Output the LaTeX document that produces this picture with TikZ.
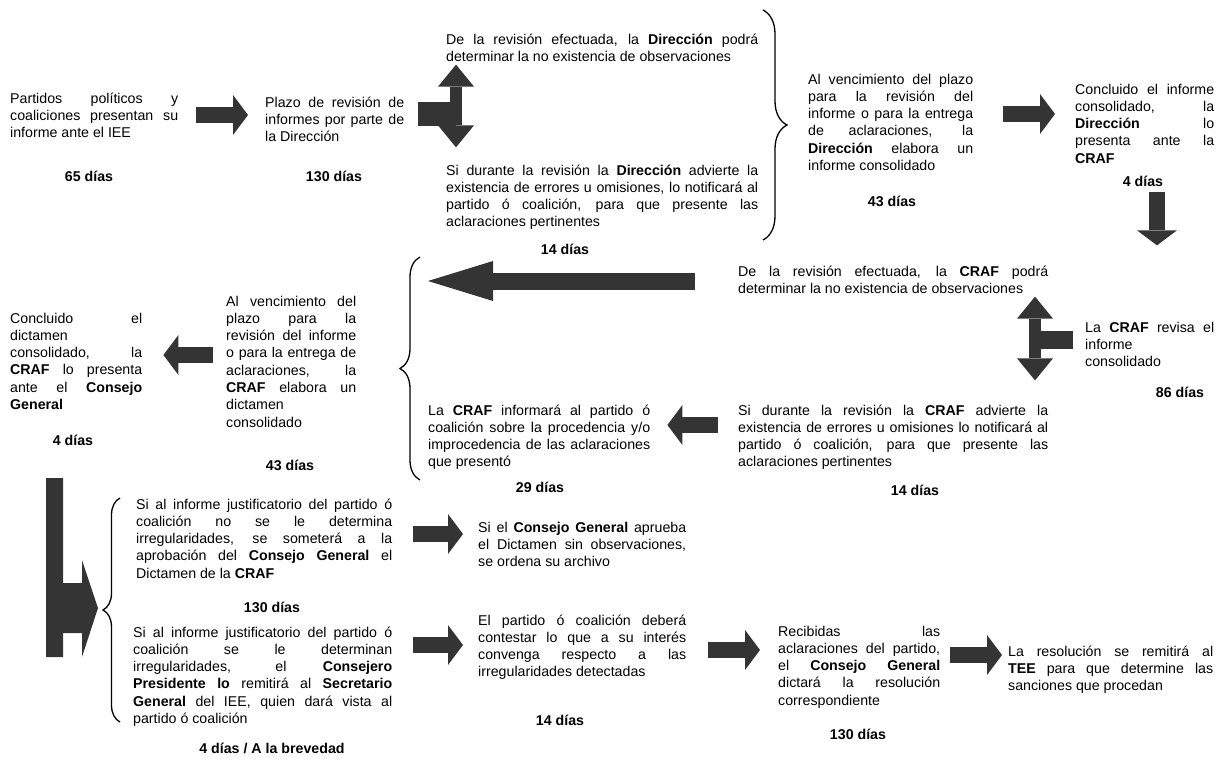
\documentclass[tikz,border=0pt]{standalone}
\usepackage{fontspec}
\setmainfont{Liberation Sans}
\usetikzlibrary{arrows.meta,decorations.pathreplacing}
\definecolor{arrgray}{RGB}{52,52,52}
\tolerance=10000
\hbadness=10000
\tikzset{
  txt/.style={anchor=base west, inner sep=0pt, align=justify, font=\fontsize{14.2pt}{17.3pt}\selectfont},
  dias/.style={inner sep=0pt, font=\fontsize{14.2pt}{17.3pt}\selectfont\bfseries},
  blk/.style={draw=arrgray, line width=16pt, -{Triangle[width=40pt,length=15pt,line width=0pt]}},
  blklong/.style={draw=arrgray, line width=17pt, -{Triangle[width=40pt,length=65pt,line width=0pt]}},
  dbl/.style={draw=arrgray, line width=12pt, {Triangle[width=36pt,length=22pt,line width=0pt]}-{Triangle[width=36pt,length=22pt,line width=0pt]}},
  stub/.style={draw=arrgray, line width=24pt},
  brc/.style={draw, line width=1.3pt, decorate, decoration={brace, #1}}
}
\begin{document}
\begin{tikzpicture}[x=1pt,y=-1pt]
  \useasboundingbox (0,0) rectangle (1224,758);
  % first row: Direccion
  \node[txt, text width=168pt] (partidos) at (10,103) {Partidos políticos y\linebreak coaliciones presentan su\linebreak informe ante el IEE};
  \node[dias] (d65) at (89,176) {65 días};
  \node[txt, text width=139pt] (plazo) at (265,107) {Plazo de revisión de\linebreak informes por parte de\linebreak la Dirección};
  \node[dias] (d130a) at (334,176) {130 días};
  \node[txt, text width=312pt] (dirobs) at (446,44) {De la revisión efectuada, la \textbf{Dirección} podrá\linebreak determinar la no existencia de observaciones};
  \node[txt, text width=312pt] (direrr) at (446,175) {Si durante la revisión la \textbf{Dirección} advierte la\linebreak existencia de errores u omisiones, lo notificará al\linebreak partido ó coalición, para que presente las\linebreak aclaraciones pertinentes};
  \node[dias] (d14a) at (565,249) {14 días};
  \node[txt, text width=165pt] (dirinf) at (808,84) {Al vencimiento del plazo\linebreak para la revisión del\linebreak informe o para la entrega\linebreak de aclaraciones, la\linebreak \textbf{Dirección} elabora un\linebreak informe consolidado};
  \node[dias] (d43a) at (892,201) {43 días};
  \node[txt, text width=139pt] (dirpres) at (1075,94) {Concluido el informe\linebreak consolidado, la\linebreak \textbf{Dirección} lo\linebreak presenta ante la\linebreak \textbf{CRAF}};
  \node[dias] (d4a) at (1143,181) {4 días};
  % second row: CRAF
  \node[txt, text width=310pt] (crafobs) at (738,276) {De la revisión efectuada, la \textbf{CRAF} podrá\linebreak determinar la no existencia de observaciones};
  \node[txt, text width=129pt] (crafrev) at (1085,332) {La \textbf{CRAF} revisa el\linebreak informe\linebreak consolidado};
  \node[dias] (d86) at (1180,392) {86 días};
  \node[txt, text width=310pt] (craferr) at (738,415) {Si durante la revisión la \textbf{CRAF} advierte la\linebreak existencia de errores u omisiones lo notificará al\linebreak partido ó coalición, para que presente las\linebreak aclaraciones pertinentes};
  \node[dias] (d14b) at (915,490) {14 días};
  \node[txt, text width=222pt] (crafinf) at (428,415) {La \textbf{CRAF} informará al partido ó\linebreak coalición sobre la procedencia y/o\linebreak improcedencia de las aclaraciones\linebreak que presentó};
  \node[dias] (d29) at (540,487) {29 días};
  \node[txt, text width=130pt] (crafdict) at (226,306) {Al vencimiento del\linebreak plazo para la\linebreak revisión del informe\linebreak o para la entrega de\linebreak aclaraciones, la\linebreak \textbf{CRAF} elabora un\linebreak dictamen\linebreak consolidado};
  \node[dias] (d43b) at (290,465) {43 días};
  \node[txt, text width=132pt] (crafpres) at (10,323) {Concluido el\linebreak dictamen\linebreak consolidado, la\linebreak \textbf{CRAF} lo presenta\linebreak ante el \textbf{Consejo}\linebreak \textbf{General}};
  \node[dias] (d4b) at (73,440) {4 días};
  % third row: Consejo General
  \node[txt, text width=256pt] (cgsin) at (136,509) {Si al informe justificatorio del partido ó\linebreak coalición no se le determina\linebreak irregularidades, se someterá a la\linebreak aprobación del \textbf{Consejo General} el\linebreak Dictamen de la \textbf{CRAF}};
  \node[dias] (d130b) at (272,607) {130 días};
  \node[txt, text width=259pt] (cgcon) at (133,637) {Si al informe justificatorio del partido ó\linebreak coalición se le determinan\linebreak irregularidades, el \textbf{Consejero}\linebreak \textbf{Presidente lo} remitirá al \textbf{Secretario}\linebreak \textbf{General} del IEE, quien dará vista al\linebreak partido ó coalición};
  \node[dias] (d4c) at (272,748) {4 días / A la brevedad};
  \node[txt, text width=208pt] (archivo) at (478,532) {Si el \textbf{Consejo General} aprueba\linebreak el Dictamen sin observaciones,\linebreak se ordena su archivo};
  \node[txt, text width=208pt] (contesta) at (478,625) {El partido ó coalición deberá\linebreak contestar lo que a su interés\linebreak convenga respecto a las\linebreak irregularidades detectadas};
  \node[dias] (d14c) at (560,720) {14 días};
  \node[txt, text width=162pt] (resol) at (778,636) {Recibidas las\linebreak aclaraciones del partido,\linebreak el \textbf{Consejo General}\linebreak dictará la resolución\linebreak correspondiente};
  \node[dias] (d130c) at (858,734) {130 días};
  \node[txt, text width=205pt] (tee) at (1008,656) {La resolución se remitirá al\linebreak \textbf{TEE} para que determine las\linebreak sanciones que procedan};

  % block arrows
  \coordinate (r1) at (196,115);
  \draw[blk, shorten >=17pt] (r1) -- (r1 -| plazo.west);
  \coordinate (t1) at (456,114);
  \draw[stub] (t1 -| plazo.east) ++(14,0) -- (t1);
  \draw[dbl, shorten <=3pt, shorten >=17pt] (t1 |- dirobs.south) -- (t1 |- direrr.north);
  \coordinate (r2) at (1003,114);
  \draw[blk, shorten >=20pt] (r2) -- (r2 -| dirpres.west);
  \coordinate (dn) at (1157,192);
  \draw[blk, shorten >=20pt] (dn) -- (dn |- crafobs.north);
  \coordinate (t2) at (1035,340);
  \draw[stub, line width=18pt, shorten >=12pt] (t2) -- (t2 -| crafrev.west);
  \draw[dbl, shorten <=3pt, shorten >=24pt] (t2 |- crafobs.south) -- (t2 |- craferr.north);
  \coordinate (lg) at (695,281);
  \draw[blklong] (lg) -- (lg -| crafinf.west);
  \coordinate (l2) at (718,425);
  \draw[blk, shorten >=17pt] (l2) -- (l2 -| crafinf.east);
  \coordinate (l3) at (213,355);
  \draw[blk, shorten >=21pt] (l3) -- (l3 -| crafpres.east);
  \coordinate (r3) at (413,534);
  \draw[blk, shorten >=15pt] (r3) -- (r3 -| archivo.west);
  \coordinate (r4) at (413,645);
  \draw[blk, shorten >=15pt] (r4) -- (r4 -| contesta.west);
  \coordinate (r5) at (708,650);
  \draw[blk, shorten >=18pt] (r5) -- (r5 -| resol.west);
  \coordinate (r6) at (950,655);
  \draw[blk, shorten >=6pt] (r6) -- (r6 -| tee.west);
  % bent arrow down to the last step
  \fill[arrgray] (46,478) -- (63,478) -- (63,583) -- (82,583) -- (82,560) -- (98,608) -- (82,657) -- (82,633) -- (63,633) -- (63,657) -- (46,657) -- cycle;

  % braces
  \draw[brc={amplitude=24pt}] (763,10) -- (763,240);
  \draw[brc={amplitude=20pt}] (420,480) -- (420,257);
  \draw[brc={amplitude=17pt}] (120,722) -- (120,498);
\end{tikzpicture}
\end{document}
